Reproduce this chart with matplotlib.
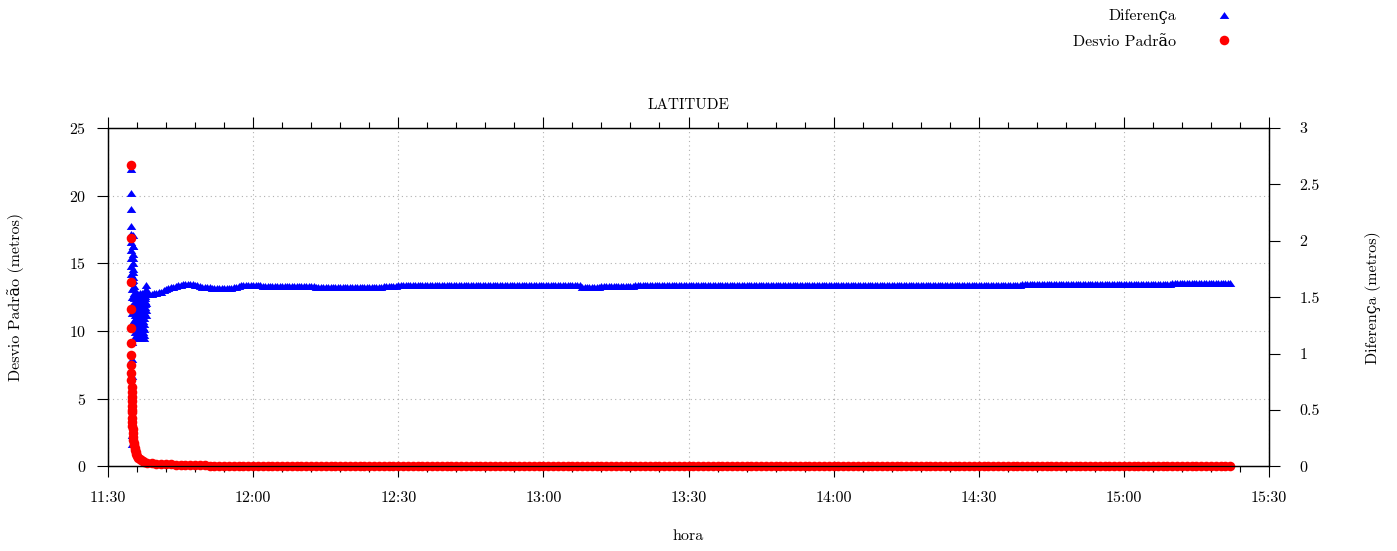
import matplotlib.pyplot as plt
import matplotlib.transforms as mtransforms
from matplotlib.lines import Line2D
import numpy as np

plt.rcParams["font.family"] = ["cmr10", "DejaVu Serif"]
plt.rcParams["font.size"] = 11.5
plt.rcParams["axes.formatter.use_mathtext"] = True

# first sample, in minutes after 11:30
start_min = 4.7

# Desvio Padrão (left axis), first seconds of the record
red_early_sec = [0, 1, 2, 3, 4, 5, 6, 7, 8, 9, 10, 11, 12, 13, 14, 15, 16, 18,
                 20, 22, 24, 27, 30, 34, 38, 43, 48, 54, 60, 70, 80, 95, 110,
                 130, 150, 170]
red_early = [22.3, 16.9, 13.6, 11.65, 10.2, 9.1, 8.2, 7.5, 6.9, 6.4, 5.9, 5.5,
             5.1, 4.8, 4.5, 4.2, 4.0, 3.6, 3.3, 3.0, 2.75, 2.45, 2.2, 1.95,
             1.75, 1.55, 1.4, 1.25, 1.1, 0.95, 0.8, 0.65, 0.55, 0.45, 0.38,
             0.32]

# Diferença (right axis), first seconds of the record
blue_early_sec = [0, 1, 2,
                  3, 4, 5, 6, 7, 8, 9, 10, 11, 12, 13, 14,
                  15, 16, 17, 18, 19, 20, 21, 22,
                  23, 24, 25, 26, 27, 28, 29, 30,
                  31, 32, 33, 34, 35, 36, 37, 38, 39, 40,
                  42, 44, 46, 48, 50, 52, 54, 56, 58, 60, 62, 64, 66, 68, 70, 72, 74,
                  76, 78, 80, 82, 84, 86, 88, 90, 92, 94, 96, 98, 100, 102, 104, 106, 108,
                  110, 112, 114, 116, 118, 120, 122, 124, 126, 128, 130, 132, 134, 136, 138, 140, 142,
                  144, 146, 148, 150, 152, 154, 156, 158, 160, 162, 164, 166, 168, 170, 172, 174, 176,
                  178, 180, 182, 184, 186, 188, 190, 192, 194, 196, 198]
blue_early = [2.64, 2.42, 2.28,
              2.13, 2.06, 1.99, 1.92, 1.85, 1.78, 1.71, 1.64, 1.57, 1.50, 1.43, 1.36,
              1.10, 0.95, 0.80, 0.65, 0.50, 0.38, 0.28, 0.20,
              2.05, 1.95, 1.88, 1.80, 1.72, 1.65, 1.58, 1.50,
              1.95, 1.85, 1.75, 1.68, 1.60, 1.52, 1.45, 1.38, 1.30, 1.22,
              1.54, 1.49, 1.44, 1.39, 1.34, 1.29, 1.24, 1.19, 1.14, 1.165, 1.215, 1.265, 1.315, 1.365, 1.415, 1.465, 1.515,
              1.54, 1.49, 1.44, 1.39, 1.34, 1.29, 1.24, 1.19, 1.14, 1.165, 1.215, 1.265, 1.315, 1.365, 1.415, 1.465, 1.515,
              1.54, 1.49, 1.44, 1.39, 1.34, 1.29, 1.24, 1.19, 1.14, 1.165, 1.215, 1.265, 1.315, 1.365, 1.415, 1.465, 1.515,
              1.54, 1.49, 1.44, 1.39, 1.34, 1.29, 1.24, 1.19, 1.14, 1.165, 1.215, 1.265, 1.315, 1.365, 1.415, 1.465, 1.515,
              1.54, 1.49, 1.44, 1.39, 1.34, 1.45, 1.55, 1.61, 1.57, 1.53, 1.53]

# Desvio Padrão, one reading per minute from 11:38 to 15:22
red_tail_min = np.arange(8, 233)
red_tail = [
    0.25, 0.23, 0.21, 0.19, 0.17, 0.15, 0.14, 0.13, 0.12, 0.11,
    0.10, 0.09, 0.08, 0.07, 0.06, 0.06, 0.05, 0.05, 0.04, 0.04,
    0.03, 0.03, 0.03, 0.03, 0.03, 0.03, 0.03, 0.03, 0.03, 0.03,
    0.03, 0.03, 0.03, 0.03, 0.03, 0.03, 0.03, 0.03, 0.03, 0.03,
    0.03, 0.03, 0.03, 0.03, 0.03, 0.03, 0.03, 0.03, 0.03, 0.03,
    0.03, 0.03, 0.03, 0.02, 0.02, 0.02, 0.02, 0.02, 0.02, 0.02,
    0.02, 0.02, 0.02, 0.02, 0.02, 0.02, 0.02, 0.02, 0.02, 0.02,
    0.02, 0.02, 0.02, 0.02, 0.02, 0.02, 0.02, 0.02, 0.02, 0.02,
    0.02, 0.02, 0.02, 0.02, 0.02, 0.02, 0.02, 0.02, 0.02, 0.02,
    0.02, 0.02, 0.02, 0.02, 0.02, 0.02, 0.02, 0.02, 0.02, 0.02,
    0.02, 0.02, 0.02, 0.02, 0.02, 0.02, 0.02, 0.02, 0.02, 0.02,
    0.02, 0.02, 0.02, 0.02, 0.02, 0.02, 0.02, 0.02, 0.02, 0.02,
    0.02, 0.02, 0.02, 0.02, 0.02, 0.02, 0.02, 0.02, 0.02, 0.02,
    0.02, 0.02, 0.02, 0.02, 0.02, 0.02, 0.02, 0.02, 0.02, 0.02,
    0.02, 0.02, 0.02, 0.02, 0.02, 0.02, 0.02, 0.02, 0.02, 0.02,
    0.02, 0.02, 0.02, 0.02, 0.02, 0.02, 0.02, 0.02, 0.02, 0.02,
    0.02, 0.02, 0.02, 0.02, 0.02, 0.02, 0.02, 0.02, 0.02, 0.02,
    0.02, 0.02, 0.02, 0.02, 0.02, 0.02, 0.02, 0.02, 0.02, 0.02,
    0.02, 0.02, 0.02, 0.02, 0.02, 0.02, 0.02, 0.02, 0.02, 0.02,
    0.02, 0.02, 0.02, 0.02, 0.02, 0.02, 0.02, 0.02, 0.02, 0.02,
    0.02, 0.02, 0.02, 0.02, 0.02, 0.02, 0.02, 0.02, 0.02, 0.02,
    0.02, 0.02, 0.02, 0.02, 0.02, 0.02, 0.02, 0.02, 0.02, 0.02,
    0.02, 0.02, 0.02, 0.02, 0.02,
]

# Diferença, one reading per half minute from 11:38 to 15:22 (10 min per row)
blue_tail_min = np.arange(8, 232.01, 0.5)
blue_tail = [
    1.53, 1.53, 1.53, 1.535, 1.54, 1.545, 1.55, 1.56, 1.57, 1.58, 1.59, 1.595, 1.60, 1.605, 1.61, 1.615, 1.62, 1.62, 1.62, 1.615,
    1.61, 1.605, 1.60, 1.595, 1.59, 1.59, 1.59, 1.585, 1.58, 1.58, 1.58, 1.58, 1.58, 1.58, 1.58, 1.585, 1.59, 1.595, 1.60, 1.605,
    1.61, 1.61, 1.61, 1.61, 1.61, 1.61, 1.61, 1.61, 1.60, 1.60, 1.60, 1.60, 1.60, 1.60, 1.60, 1.60, 1.60, 1.60, 1.60, 1.60,
    1.60, 1.60, 1.60, 1.60, 1.60, 1.60, 1.60, 1.60, 1.60, 1.60, 1.595, 1.595, 1.595, 1.595, 1.595, 1.595, 1.595, 1.595, 1.595, 1.595,
    1.595, 1.595, 1.595, 1.595, 1.595, 1.595, 1.59, 1.59, 1.59, 1.59, 1.59, 1.59, 1.59, 1.59, 1.59, 1.59, 1.59, 1.59, 1.60, 1.60,
    1.60, 1.60, 1.60, 1.60, 1.61, 1.61, 1.61, 1.61, 1.61, 1.61, 1.61, 1.61, 1.61, 1.61, 1.61, 1.61, 1.61, 1.61, 1.61, 1.61,
    1.61, 1.61, 1.61, 1.61, 1.61, 1.61, 1.61, 1.61, 1.61, 1.61, 1.61, 1.61, 1.61, 1.61, 1.61, 1.61, 1.61, 1.61, 1.61, 1.61,
    1.61, 1.61, 1.61, 1.61, 1.61, 1.61, 1.61, 1.61, 1.61, 1.61, 1.61, 1.61, 1.61, 1.61, 1.61, 1.61, 1.61, 1.61, 1.61, 1.61,
    1.61, 1.61, 1.61, 1.61, 1.61, 1.61, 1.605, 1.605, 1.605, 1.605, 1.605, 1.605, 1.605, 1.605, 1.605, 1.605, 1.605, 1.605, 1.605, 1.605,
    1.595, 1.595, 1.595, 1.595, 1.595, 1.595, 1.595, 1.595, 1.60, 1.60, 1.60, 1.60, 1.60, 1.60, 1.60, 1.60, 1.60, 1.60, 1.60, 1.60,
    1.60, 1.60, 1.61, 1.61, 1.61, 1.61, 1.61, 1.61, 1.61, 1.61, 1.61, 1.61, 1.61, 1.61, 1.61, 1.61, 1.61, 1.61, 1.61, 1.61,
    1.61, 1.61, 1.61, 1.61, 1.61, 1.61, 1.61, 1.61, 1.61, 1.61, 1.61, 1.61, 1.61, 1.61, 1.61, 1.61, 1.61, 1.61, 1.61, 1.61,
    1.61, 1.61, 1.61, 1.61, 1.61, 1.61, 1.61, 1.61, 1.61, 1.61, 1.61, 1.61, 1.61, 1.61, 1.61, 1.61, 1.61, 1.61, 1.61, 1.61,
    1.61, 1.61, 1.61, 1.61, 1.61, 1.61, 1.61, 1.61, 1.61, 1.61, 1.61, 1.61, 1.61, 1.61, 1.61, 1.61, 1.61, 1.61, 1.61, 1.61,
    1.61, 1.61, 1.61, 1.61, 1.61, 1.61, 1.61, 1.61, 1.61, 1.61, 1.61, 1.61, 1.61, 1.61, 1.61, 1.61, 1.61, 1.61, 1.61, 1.61,
    1.61, 1.61, 1.61, 1.61, 1.61, 1.61, 1.61, 1.61, 1.61, 1.61, 1.61, 1.61, 1.61, 1.61, 1.61, 1.61, 1.61, 1.61, 1.61, 1.61,
    1.61, 1.61, 1.61, 1.61, 1.61, 1.61, 1.61, 1.61, 1.61, 1.61, 1.61, 1.61, 1.61, 1.61, 1.61, 1.61, 1.61, 1.61, 1.61, 1.61,
    1.61, 1.61, 1.61, 1.61, 1.61, 1.61, 1.61, 1.61, 1.61, 1.61, 1.61, 1.61, 1.61, 1.61, 1.61, 1.61, 1.61, 1.61, 1.61, 1.61,
    1.61, 1.61, 1.62, 1.62, 1.62, 1.62, 1.62, 1.62, 1.62, 1.62, 1.62, 1.62, 1.62, 1.62, 1.62, 1.62, 1.62, 1.62, 1.62, 1.62,
    1.62, 1.62, 1.62, 1.62, 1.62, 1.62, 1.62, 1.62, 1.62, 1.62, 1.62, 1.62, 1.62, 1.62, 1.62, 1.62, 1.62, 1.62, 1.62, 1.62,
    1.62, 1.62, 1.615, 1.615, 1.615, 1.615, 1.615, 1.615, 1.615, 1.615, 1.615, 1.615, 1.615, 1.615, 1.615, 1.615, 1.615, 1.615, 1.615, 1.615,
    1.615, 1.615, 1.615, 1.615, 1.625, 1.625, 1.625, 1.625, 1.625, 1.625, 1.625, 1.625, 1.625, 1.625, 1.625, 1.625, 1.625, 1.625, 1.625, 1.625,
    1.625, 1.625, 1.625, 1.625, 1.625, 1.625, 1.625, 1.625, 1.625,
]

xtick_labels = ["11:30", "12:00", "12:30", "13:00", "13:30", "14:00",
                "14:30", "15:00", "15:30"]
left_ticks = [0, 5, 10, 15, 20, 25]
right_ticks = [0, 0.5, 1, 1.5, 2, 2.5, 3]
right_tick_labels = ["0", "0.5", "1", "1.5", "2", "2.5", "3"]

red_t = np.concatenate([start_min + np.array(red_early_sec) / 60.0, red_tail_min])
red_v = np.concatenate([red_early, red_tail])
blue_t = np.concatenate([start_min + np.array(blue_early_sec) / 60.0, blue_tail_min])
blue_v = np.concatenate([blue_early, blue_tail])

# gnuplot-like triangle (wider than tall)
tri = [(-1, -0.72), (1, -0.72), (0, 0.72), (-1, -0.72)]

fig = plt.figure(figsize=(13.97, 5.51), dpi=100)
# host axes carries Diferença (right scale), twin carries Desvio Padrão (left),
# so the red points are drawn over the blue ones
ax = fig.add_axes([0.0773, 0.1534, 0.8311, 0.6143])
axl = ax.twinx()
ax.yaxis.tick_right()
ax.yaxis.set_label_position("right")
axl.yaxis.tick_left()
axl.yaxis.set_label_position("left")

hb, = ax.plot(blue_t, blue_v, linestyle="none", marker=tri, ms=6.9,
              color="#0000ff", mew=0, clip_on=False, label="Diferença")
hr, = axl.plot(red_t, red_v, linestyle="none", marker="o", ms=6.9,
               color="#ff0000", mew=0, clip_on=False, label="Desvio Padrão")

ax.set_xlim(0, 240)
ax.set_xticks(np.arange(0, 241, 30))
ax.set_xticklabels(xtick_labels)
ax.set_xticks(np.arange(0, 241, 6), minor=True)
ax.set_ylim(0, 3)
ax.set_yticks(right_ticks)
ax.set_yticklabels(right_tick_labels)
axl.set_ylim(0, 25)
axl.set_yticks(left_ticks)

ax.tick_params(axis="x", which="both", direction="out", top=True, bottom=True)
ax.tick_params(axis="x", which="major", length=7.9, width=0.8, pad=10)
ax.tick_params(axis="x", which="minor", length=4.1, width=0.8)
ax.tick_params(axis="y", which="major", direction="out", length=7.9, width=0.8,
               pad=14, left=False, right=True)
axl.tick_params(axis="y", which="major", direction="out", length=7.9,
                width=0.8, pad=8, left=True, right=False)

# grid behind the data
grid_kw = dict(color="#b0b0b0", linestyle=(0, (1, 3)), linewidth=0.8)
ax.grid(axis="x", which="major", **grid_kw)
trans = mtransforms.blended_transform_factory(ax.transAxes, axl.transData)
for yv in left_ticks[1:-1]:
    ax.add_line(Line2D([0, 1], [yv, yv], transform=trans, zorder=1.5, **grid_kw))

for a in (ax, axl):
    for s in a.spines.values():
        s.set_linewidth(0.9)

ax.set_title("LATITUDE", pad=13.5, fontsize=11)
ax.set_xlabel("hora")
ax.xaxis.set_label_coords(0.5, -0.185)
axl.set_ylabel("Desvio Padrão (metros)")
axl.yaxis.set_label_coords(-0.0725, 0.5)
ax.set_ylabel("Diferença (metros)")
ax.yaxis.set_label_coords(1.083, 0.5)

fig.legend(handles=[hb, hr], loc="upper right",
           bbox_to_anchor=(0.8876, 0.9836), markerfirst=False, frameon=False,
           handlelength=2, handletextpad=2.0, labelspacing=0.66, borderpad=0,
           borderaxespad=0, numpoints=1)

fig.savefig("out.png", dpi=100)
